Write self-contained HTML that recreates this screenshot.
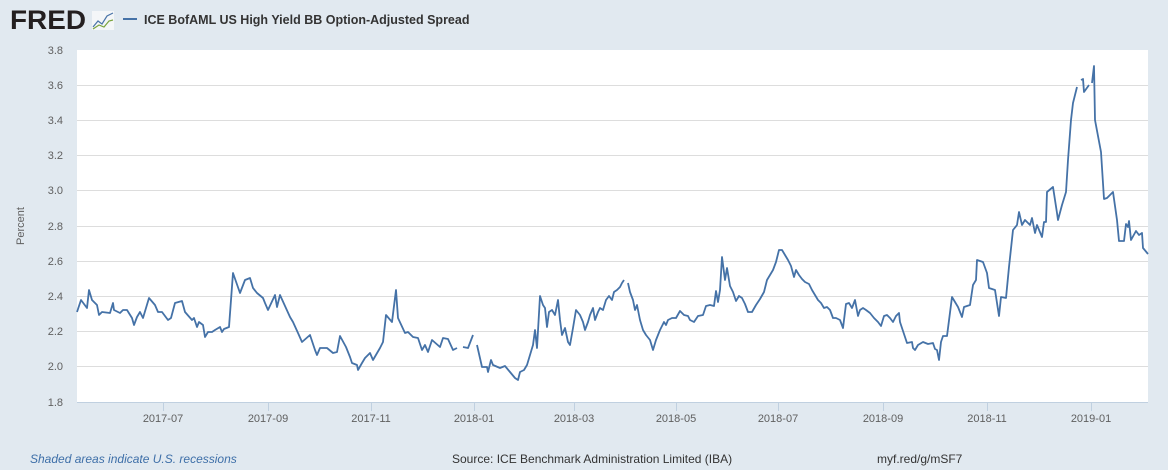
<!DOCTYPE html>
<html><head><meta charset="utf-8"><style>
body{margin:0;width:1168px;height:470px;background:#e1e9f0;overflow:hidden;font-family:"Liberation Sans",sans-serif}
</style></head><body>
<svg width="1168" height="470" xmlns="http://www.w3.org/2000/svg" style="position:absolute;left:0;top:0">
<text x="10" y="29" font-family="Liberation Sans" font-weight="bold" font-size="27" fill="#231f20" textLength="76" lengthAdjust="spacingAndGlyphs">FRED</text>
<rect x="92" y="11" width="22" height="19" fill="#f4f6f8"/>
<polyline points="93,27 98,21 102,24 107,16 113,13" fill="none" stroke="#4a74a8" stroke-width="1.2"/>
<polyline points="93,29 99,25 104,27 109,21 113,20" fill="none" stroke="#7aa33d" stroke-width="1.2"/>
<line x1="123" y1="19" x2="137" y2="19" stroke="#4572a7" stroke-width="2"/>
<text x="144" y="24" font-size="12.5" font-weight="bold" fill="#333">ICE BofAML US High Yield BB Option-Adjusted Spread</text>
<rect x="77" y="50" width="1071" height="352" fill="#fff"/>
<g stroke="#dddddd" stroke-width="1">
<line x1="77" x2="1148" y1="85.5" y2="85.5"/><line x1="77" x2="1148" y1="120.5" y2="120.5"/><line x1="77" x2="1148" y1="155.5" y2="155.5"/><line x1="77" x2="1148" y1="190.5" y2="190.5"/><line x1="77" x2="1148" y1="226.5" y2="226.5"/><line x1="77" x2="1148" y1="261.5" y2="261.5"/><line x1="77" x2="1148" y1="296.5" y2="296.5"/><line x1="77" x2="1148" y1="331.5" y2="331.5"/><line x1="77" x2="1148" y1="366.5" y2="366.5"/>
</g>
<line x1="77" x2="1148" y1="402.5" y2="402.5" stroke="#c0d0e0"/>
<g stroke="#c0d0e0"><line x1="163.5" x2="163.5" y1="402" y2="411"/><line x1="268.5" x2="268.5" y1="402" y2="411"/><line x1="371.5" x2="371.5" y1="402" y2="411"/><line x1="474.5" x2="474.5" y1="402" y2="411"/><line x1="574.5" x2="574.5" y1="402" y2="411"/><line x1="676.5" x2="676.5" y1="402" y2="411"/><line x1="778.5" x2="778.5" y1="402" y2="411"/><line x1="883.5" x2="883.5" y1="402" y2="411"/><line x1="987.5" x2="987.5" y1="402" y2="411"/><line x1="1091.5" x2="1091.5" y1="402" y2="411"/></g>
<g font-size="11" fill="#606060" text-anchor="end">
<text x="63" y="54">3.8</text><text x="63" y="89">3.6</text><text x="63" y="124">3.4</text><text x="63" y="159">3.2</text><text x="63" y="194">3.0</text><text x="63" y="230">2.8</text><text x="63" y="265">2.6</text><text x="63" y="300">2.4</text><text x="63" y="335">2.2</text><text x="63" y="370">2.0</text><text x="63" y="406">1.8</text>
</g>
<g font-size="11" fill="#606060" text-anchor="middle">
<text x="163" y="422">2017-07</text><text x="268" y="422">2017-09</text><text x="371" y="422">2017-11</text><text x="474" y="422">2018-01</text><text x="574" y="422">2018-03</text><text x="676" y="422">2018-05</text><text x="778" y="422">2018-07</text><text x="883" y="422">2018-09</text><text x="987" y="422">2018-11</text><text x="1091" y="422">2019-01</text>
</g>
<text transform="translate(24,226) rotate(-90)" font-size="11" fill="#606060" text-anchor="middle">Percent</text>
<g fill="none" stroke="#4572a7" stroke-width="1.8" stroke-linejoin="round">
<polyline points="77,312 81,300 87,308 89,290 92,300 97,305 99,315 102,312 110,313 113,303 114,310 120,313 123,310 127,310 132,318 134,325 137,317 140,312 143,318 149,298 155,305 158,312 162,312 168,320 171,318 175,303 182,301 185,312 192,320 194,318 197,327 199,322 203,325 205,337 208,332 212,332 215,330 220,327 222,332 224,329 229,327 233,273 240,293 245,280 250,278 253,288 257,293 263,298 265,303 268,310 275,295 277,307 280,295 290,317 293,322 298,333 302,342 310,335 315,350 317,355 320,348 327,348 333,353 337,352 340,336 346,347 350,357 352,363 357,365 358,370 362,363 365,358 370,353 373,360 380,348 383,342 386,315 392,322 396,290 398,318 405,333 408,332 413,337 418,338 422,350 425,345 428,352 432,340 440,347 443,338 448,339 453,350 457,348"/>
<polyline points="463,347 468,348 473,335"/>
<polyline points="477,345 482,367 487,367 488,372 491,360 493,365 500,368 505,366 510,372 515,378 518,380 520,372 524,370 527,365 530,355 533,345 535,330 537,348 540,296 543,305 545,308 547,327 549,312 552,310 555,315 558,300 560,320 562,335 565,328 568,342 570,345 573,328 576,310 580,315 583,322 585,330 588,322 590,315 593,308 595,320 598,312 600,308 603,310 606,300 609,296 612,300 614,292 617,290 620,287 622,283 624,280"/>
<polyline points="628,283 630,292 633,300 635,310 637,305 640,320 643,330 646,335 650,340 653,350 656,340 660,330 664,322 666,325 668,320 672,318 676,318 680,311 684,315 688,316 690,320 694,322 698,316 703,315 706,306 710,305 714,306 716,291 718,302 720,290 722,257 725,280 727,268 730,286 733,292 736,301 739,296 742,298 745,304 748,312 752,312 756,305 760,299 764,292 767,280 770,275 773,270 776,262 779,250 782,250 785,255 788,260 791,266 794,277 796,270 799,275 802,279 805,282 809,284 812,290 815,295 818,300 821,303 824,308 827,307 830,310 833,318 836,318 840,320 843,328 846,304 849,303 852,308 855,300 858,316 860,310 863,308 866,310 870,313 874,318 878,322 881,326 884,316 887,315 890,318 893,322 896,316 899,313 900,322 907,343 912,342 913,348 915,350 918,345 923,342 928,344 933,343 935,349 937,350 939,360 941,342 943,336 947,336 952,297 958,307 962,317 964,307 970,305 973,285 976,280 977,260 983,262 987,273 989,288 995,290 999,316 1001,297 1006,298 1009,267 1013,230 1017,225 1019,212 1022,225 1025,220 1030,225 1032,218 1035,233 1037,225 1042,237 1044,222 1046,222 1047,192 1053,187 1057,213 1058,220 1062,205 1066,192 1068,160 1071,120 1073,103 1077,87"/>
<polyline points="1081,80 1083,79 1084,92 1089,85"/>
<polyline points="1092,83 1094,66 1095,120 1101,152 1104,199 1107,198 1113,192 1117,220 1119,241 1124,241 1126,224 1128,227 1129,221 1131,240 1136,231 1139,235 1142,233 1143,248 1148,254"/>
</g>
<text x="30" y="463" font-size="12" font-style="italic" fill="#3e6fa8">Shaded areas indicate U.S. recessions</text>
<text x="452" y="463" font-size="12" fill="#333">Source: ICE Benchmark Administration Limited (IBA)</text>
<text x="877" y="463" font-size="12" fill="#333">myf.red/g/mSF7</text>
</svg>
</body></html>
